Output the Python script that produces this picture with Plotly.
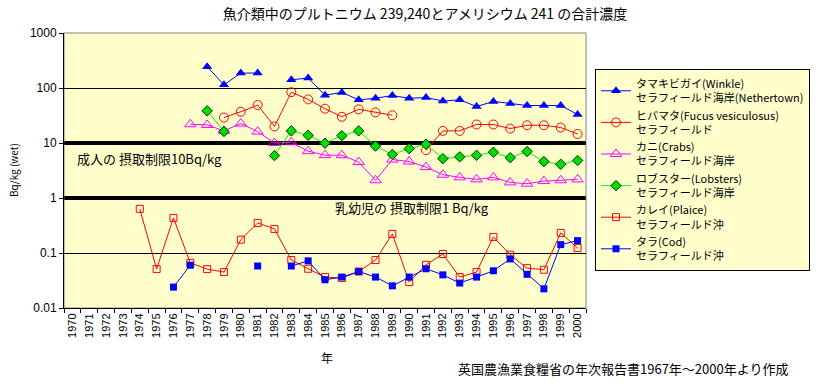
import plotly.graph_objects as go

years = [str(y) for y in range(1970, 2001)]

winkle = [None]*8 + [244, 114, 187, 187, None, 141, 152, 74, 83, 61, 65, 73, 65, 67, 58, 61, 46, 57, 52, 48, 48, 48, 33]
fucus = [None]*9 + [29, 37, 49, 20, 84, 62, 42, 30, 41, 36, 32, None, 7.4, 16.6, 16.6, 21.7, 21.7, 18.3, 21, 21, 19.1, 14.6]
crabs = [None]*7 + [21.9, 21.3, 16.6, 22.6, 16.1, 10.0, 10.3, 7.1, 6.0, 6.0, 4.5, 2.1, 5.0, 4.6, 3.65, 2.65, 2.37, 2.18, 2.37, 1.92, 1.82, 2.03, 2.1, 2.18]
lobsters = [None]*8 + [38.4, 16.2, None, None, 5.9, 16.6, 13.8, 9.9, 13.6, 16.6, 8.8, 6.2, 7.9, 9.5, 5.2, 5.6, 5.97, 6.8, 5.4, 7.0, 4.6, 4.1, 4.8]
plaice = [None]*4 + [0.635, 0.051, 0.435, 0.066, 0.051, 0.045, 0.175, 0.352, 0.274, 0.0745, 0.0517, 0.0365, 0.035, 0.046, 0.0745, 0.222, 0.0296, 0.061, 0.096, 0.0365, 0.045, 0.196, 0.093, 0.053, 0.0496, 0.232, 0.123]
cod = [None]*6 + [0.024, 0.060, None, None, None, 0.058, None, 0.058, 0.072, 0.0326, 0.0365, 0.046, 0.0365, 0.0253, 0.0365, 0.0517, 0.040, 0.0284, 0.0365, 0.0475, 0.078, 0.041, 0.0223, 0.142, 0.168]

names = [
    "タマキビガイ(Winkle)<br>セラフィールド海岸(Nethertown)",
    "ヒバマタ(Fucus vesiculosus)<br>セラフィールド",
    "カニ(Crabs)<br>セラフィールド海岸",
    "ロブスター(Lobsters)<br>セラフィールド海岸",
    "カレイ(Plaice)<br>セラフィールド沖",
    "タラ(Cod)<br>セラフィールド沖",
]

y_tickvals = [0.01, 0.1, 1, 10, 100, 1000]
y_ticktext = ["0.01", "0.1", "1", "10", "100", "1000"]
limits = [10, 1]

FONT = "Noto Sans CJK JP"

series = [
    (winkle, "#0000FF", dict(symbol="triangle-up", size=9, color="#0000FF")),
    (fucus, "#FF0000", dict(symbol="circle-open", size=9, color="#FF0000", line=dict(width=1))),
    (crabs, "#FF00FF", dict(symbol="triangle-up-open", size=10, color="#FF00FF", line=dict(width=1))),
    (lobsters, "#00FF00", dict(symbol="diamond", size=8, color="#00DD00", line=dict(width=1, color="#003300"))),
    (plaice, "#FF0000", dict(symbol="square-open", size=7, color="#FF0000", line=dict(width=1))),
    (cod, "#0000FF", dict(symbol="square", size=7, color="#0000FF")),
]

fig = go.Figure()
for (vals, col, mk), nm in zip(series, names):
    fig.add_trace(go.Scatter(
        x=years, y=vals, name=nm, mode="lines+markers",
        line=dict(color=col, width=1), marker=mk, connectgaps=False,
    ))

for lv in limits:
    fig.add_shape(type="line", xref="x domain", x0=0, x1=1, yref="y", y0=lv, y1=lv,
                  line=dict(color="black", width=4), layer="below")

fig.add_shape(type="rect", xref="paper", yref="paper", x0=0, x1=1, y0=0, y1=1,
              line=dict(color="#808080", width=1), layer="below")

W, H = 819, 384
fig.update_layout(
    width=W, height=H,
    margin=dict(l=64, r=819 - 586, t=33, b=384 - 308, autoexpand=False),
    paper_bgcolor="white", plot_bgcolor="#FFFFCC",
    font=dict(family=FONT, size=11, color="black"),
    title=dict(text="魚介類中のプルトニウム 239,240とアメリシウム 241 の合計濃度",
               x=425/W, xanchor="center", y=1-14/H, yanchor="middle",
               font=dict(family=FONT, size=14, color="black")),
    showlegend=True,
    legend=dict(x=(595-64)/522, y=(308-69)/275, xanchor="left", yanchor="top",
                bgcolor="#FFFFCC", bordercolor="black", borderwidth=1,
                font=dict(family=FONT, size=11, color="black"),
                tracegroupgap=0),
    xaxis=dict(type="category", categoryorder="array", categoryarray=years,
               range=[-0.5, 30.5], tickangle=-90, tickson="boundaries",
               ticks="outside", ticklen=4, tickcolor="black", automargin=False,
               showline=True, linecolor="black", linewidth=1,
               showgrid=False, zeroline=False, tickfont=dict(size=11, family="Liberation Sans")),
    yaxis=dict(type="log", range=[-2, 3], tickvals=y_tickvals, ticktext=y_ticktext,
               ticks="outside", ticklen=4, tickcolor="black", automargin=False,
               showline=True, linecolor="black", linewidth=1,
               showgrid=True, gridcolor="black", gridwidth=1, zeroline=False,
               tickfont=dict(size=12, family="Liberation Sans")),
)

fig.add_annotation(text="成人の 摂取制限10Bq/kg", xref="paper", yref="paper",
                   x=(75-64)/522, y=(308-158)/275, xanchor="left", yanchor="middle",
                   showarrow=False, font=dict(family=FONT, size=13))
fig.add_annotation(text="乳幼児の 摂取制限1 Bq/kg", xref="paper", yref="paper",
                   x=(333-64)/522, y=(308-207)/275, xanchor="left", yanchor="middle",
                   showarrow=False, font=dict(family=FONT, size=13))
fig.add_annotation(text="Bq/kg (wet)", xref="paper", yref="paper",
                   x=(13-64)/522, y=(308-170)/275, xanchor="center", yanchor="middle",
                   textangle=-90, showarrow=False, font=dict(family=FONT, size=10))
fig.add_annotation(text="年", xref="paper", yref="paper",
                   x=(327-64)/522, y=(308-357)/275, xanchor="center", yanchor="middle",
                   showarrow=False, font=dict(family=FONT, size=12))
fig.add_annotation(text="英国農漁業食糧省の年次報告書1967年～2000年より作成", xref="paper", yref="paper",
                   x=(790-64)/522, y=(308-368)/275, xanchor="right", yanchor="middle",
                   showarrow=False, font=dict(family=FONT, size=13))

fig.write_html("out.html", config={"displayModeBar": False},
               post_script="document.body.style.margin='0';")
